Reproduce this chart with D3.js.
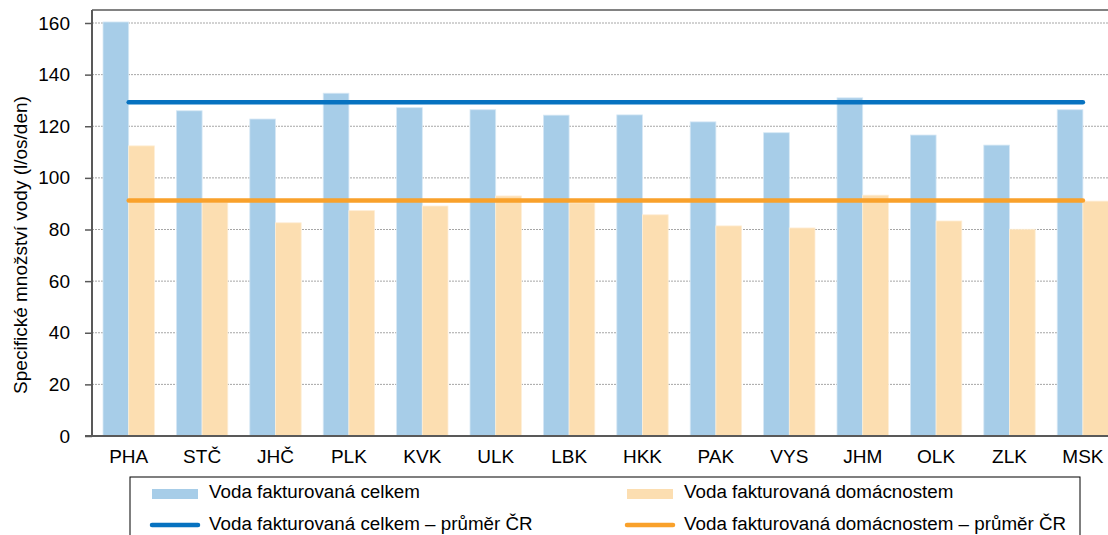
<!DOCTYPE html>
<html>
<head>
<meta charset="utf-8">
<script src="https://cdn.jsdelivr.net/npm/d3@7"></script>
<style>
  body { margin: 0; background: #fff; }
  svg { font-family: "Liberation Sans", Arial, sans-serif; }
</style>
</head>
<body>
<svg width="1108" height="535"></svg>
<script>
// regions (kraje)
const regions = ["PHA", "STČ", "JHČ", "PLK", "KVK", "ULK", "LBK", "HKK", "PAK", "VYS", "JHM", "OLK", "ZLK", "MSK"];
// water billed total (l/os/den)
const totalValues = [160.4, 126.0, 122.8, 132.8, 127.2, 126.4, 124.3, 124.4, 121.7, 117.5, 131.0, 116.6, 112.7, 126.4];
// water billed to households
const householdValues = [112.4, 90.4, 82.6, 87.3, 89.1, 93.0, 90.3, 85.7, 81.4, 80.6, 93.3, 83.3, 80.1, 91.0];
// national averages
const totalAvg = 129.3;
const householdAvg = 91.2;
const yTicks = [0, 20, 40, 60, 80, 100, 120, 140, 160];

const seriesNames = ["Voda fakturovaná celkem", "Voda fakturovaná domácnostem",
  "Voda fakturovaná celkem – průměr ČR", "Voda fakturovaná domácnostem – průměr ČR"];

const svg = d3.select("svg");
const plotLeft = 92, plotTop = 10, plotBottom = 436;
const bandW = 73.4;
const plotRight = plotLeft + bandW * regions.length;

const x = d3.scaleBand().domain(regions).range([plotLeft, plotRight]).paddingInner(0.3).paddingOuter(0.15);
const inner = d3.scaleBand().domain(["total", "house"]).range([0, x.bandwidth()]);
const y = d3.scaleLinear().domain([0, 160]).range([plotBottom, 23]);

// grid lines
svg.append("g")
  .selectAll("line")
  .data(yTicks.filter(d => d > 0))
  .enter().append("line")
  .attr("x1", plotLeft).attr("x2", plotRight)
  .attr("y1", d => y(d)).attr("y2", d => y(d))
  .attr("stroke", "#a6a6a6")
  .attr("stroke-width", 1)
  .attr("stroke-dasharray", "2,1");

// bars
const groups = svg.append("g").selectAll("g")
  .data(regions.map((r, i) => ({ r, total: totalValues[i], house: householdValues[i] })))
  .enter().append("g")
  .attr("transform", d => "translate(" + x(d.r) + ",0)");

groups.append("rect")
  .attr("x", inner("total"))
  .attr("y", d => y(d.total))
  .attr("width", inner.bandwidth())
  .attr("height", d => plotBottom - y(d.total))
  .attr("fill", "#a7cde8")
  .attr("stroke", "#d6e8f5").attr("stroke-width", 0.8);

groups.append("rect")
  .attr("x", inner("house"))
  .attr("y", d => y(d.house))
  .attr("width", inner.bandwidth())
  .attr("height", d => plotBottom - y(d.house))
  .attr("fill", "#fcdeb1")
  .attr("stroke", "#feeed6").attr("stroke-width", 0.8);

// average lines from first to last group centre
const x0 = x(regions[0]) + x.bandwidth() / 2;
const x1 = x(regions[regions.length - 1]) + x.bandwidth() / 2;
[[totalAvg, "#0772c0"], [householdAvg, "#f9a12b"]].forEach(([v, c]) => {
  svg.append("line")
    .attr("x1", x0).attr("x2", x1)
    .attr("y1", y(v)).attr("y2", y(v))
    .attr("stroke", c).attr("stroke-width", 4.5)
    .attr("stroke-linecap", "round");
});

// frame / axes
svg.append("line").attr("x1", plotLeft).attr("x2", plotRight).attr("y1", plotTop).attr("y2", plotTop)
  .attr("stroke", "#595959").attr("stroke-width", 1.5);
svg.append("line").attr("x1", plotLeft).attr("x2", plotLeft).attr("y1", plotTop).attr("y2", plotBottom)
  .attr("stroke", "#595959").attr("stroke-width", 2);
svg.append("line").attr("x1", plotLeft - 7).attr("x2", plotRight).attr("y1", plotBottom).attr("y2", plotBottom)
  .attr("stroke", "#595959").attr("stroke-width", 2);

// y axis
const yAxis = svg.append("g")
  .attr("transform", "translate(" + plotLeft + ",0)")
  .call(d3.axisLeft(y).tickValues(yTicks).tickSize(7).tickPadding(15));
yAxis.select(".domain").remove();
yAxis.selectAll("line").attr("stroke", "#595959").attr("stroke-width", 1.5);
yAxis.selectAll("text").attr("fill", "#000").style("font-size", "19px")
  .style("font-family", "Liberation Sans, Arial, sans-serif");

// x axis
const xAxis = svg.append("g")
  .attr("transform", "translate(0," + plotBottom + ")")
  .call(d3.axisBottom(x).tickSize(0).tickPadding(14));
xAxis.select(".domain").remove();
xAxis.selectAll("text").attr("fill", "#000").style("font-size", "19px")
  .style("font-family", "Liberation Sans, Arial, sans-serif");

// y axis title
svg.append("text")
  .attr("transform", "translate(26.5,245) rotate(-90)")
  .attr("text-anchor", "middle")
  .style("font-size", "19px")
  .text("Specifické množství vody (l/os/den)");

// legend
const legend = svg.append("g");
legend.append("rect")
  .attr("x", 130).attr("y", 477).attr("width", 950).attr("height", 70)
  .attr("fill", "none").attr("stroke", "#000").attr("stroke-width", 1);

const legendItems = [
  { name: seriesNames[0], type: "rect", color: "#a7cde8", lx: 152, ly: 494 },
  { name: seriesNames[1], type: "rect", color: "#fcdeb1", lx: 627, ly: 494 },
  { name: seriesNames[2], type: "line", color: "#0772c0", lx: 152, ly: 525 },
  { name: seriesNames[3], type: "line", color: "#f9a12b", lx: 627, ly: 525 }
];
legendItems.forEach(d => {
  if (d.type === "rect") {
    legend.append("rect").attr("x", d.lx).attr("y", d.ly - 5).attr("width", 46).attr("height", 10)
      .attr("fill", d.color);
  } else {
    legend.append("line").attr("x1", d.lx).attr("x2", d.lx + 46).attr("y1", d.ly).attr("y2", d.ly)
      .attr("stroke", d.color).attr("stroke-width", 4.5).attr("stroke-linecap", "round");
  }
  legend.append("text").attr("x", d.lx + 57).attr("y", d.ly + (d.type === "rect" ? 4 : 5))
    .style("font-size", "18.8px").text(d.name);
});
</script>
</body>
</html>
